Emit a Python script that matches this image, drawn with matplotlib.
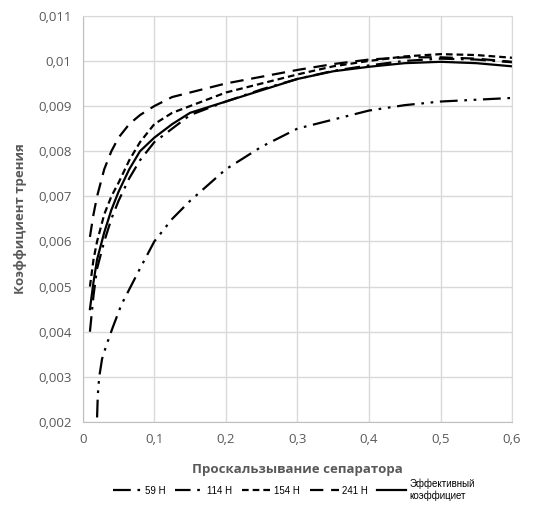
import numpy as np
import matplotlib.pyplot as plt

# slip values (x) and friction coefficients for each load
x59 = [0.02, 0.021, 0.023, 0.027, 0.033, 0.042, 0.054, 0.067, 0.08, 0.1, 0.125, 0.15, 0.2, 0.25, 0.3, 0.35, 0.4, 0.45, 0.5, 0.55, 0.6]
y59 = [0.0021, 0.0026, 0.003, 0.0034, 0.0037, 0.0041, 0.0046, 0.005, 0.0054, 0.006, 0.0065, 0.0069, 0.0076, 0.0081, 0.0085, 0.0087, 0.0089, 0.00902, 0.0091, 0.00914, 0.00918]

xs = [0.01, 0.015, 0.02, 0.03, 0.04, 0.05, 0.065, 0.08, 0.1, 0.125, 0.15, 0.2, 0.25, 0.3, 0.35, 0.4, 0.45, 0.5, 0.55, 0.6]
y114 = [0.004, 0.0048, 0.0054, 0.006, 0.0065, 0.0069, 0.0074, 0.0078, 0.0082, 0.0085, 0.0088, 0.0091, 0.00937, 0.0096, 0.00978, 0.0099, 0.01, 0.01005, 0.01003, 0.00997]
y154 = [0.005, 0.0056, 0.006, 0.0066, 0.007, 0.0073, 0.0078, 0.0082, 0.0086, 0.00885, 0.009, 0.0093, 0.0095, 0.0097, 0.00988, 0.01, 0.0101, 0.01015, 0.01013, 0.01007]
y241 = [0.0061, 0.0066, 0.007, 0.0076, 0.008, 0.0083, 0.0086, 0.0088, 0.009, 0.0092, 0.0093, 0.0095, 0.00965, 0.0098, 0.00993, 0.01003, 0.01008, 0.01008, 0.01005, 0.00998]
yeff = [0.0045, 0.0051, 0.0056, 0.0062, 0.0067, 0.0071, 0.0076, 0.008, 0.0083, 0.0086, 0.00885, 0.0091, 0.00935, 0.0096, 0.00977, 0.00987, 0.00995, 0.00998, 0.00995, 0.00988]

labels = ['59 Н', '114 Н', '154 Н', '241 Н', 'Эффективный\nкоэффициет']
xticks = [0, 0.1, 0.2, 0.3, 0.4, 0.5, 0.6]
yticks = [0.002, 0.003, 0.004, 0.005, 0.006, 0.007, 0.008, 0.009, 0.01, 0.011]

grey = '#595959'
plt.rcParams['font.family'] = ['Open Sans', 'DejaVu Sans']

fig = plt.figure(figsize=(5.34, 5.09), dpi=100)
ax = fig.add_axes([0.155, 0.171, 0.804, 0.798])

ax.plot(x59, y59, color='black', lw=1.6, ls=(0, (8, 3, 1.2, 3, 1.2, 3)), label=labels[0])
ax.plot(xs, y114, color='black', lw=1.6, ls=(0, (7, 3, 1.2, 3)), label=labels[1])
ax.plot(xs, y154, color='black', lw=1.6, ls=(0, (3, 1.8)), label=labels[2])
ax.plot(xs, y241, color='black', lw=1.6, ls=(0, (6, 3.5)), label=labels[3])
ax.plot(xs, yeff, color='black', lw=1.6, ls='-', label=labels[4])

ax.set_xlim(0, 0.6)
ax.set_ylim(0.002, 0.011)
ax.set_xticks(xticks)
ax.set_yticks(yticks)
ax.set_xticklabels([('%g' % t).replace('.', ',') for t in xticks])
ax.set_yticklabels([('%.3f' % t).rstrip('0').replace('.', ',') for t in yticks])
ax.tick_params(colors=grey, labelsize=9.5, length=0, pad=8)
ax.grid(True, color='#d9d9d9', lw=1)
for s in ax.spines.values():
    s.set_color('#d9d9d9')
ax.spines['left'].set_color('#bfbfbf')
ax.spines['bottom'].set_color('#bfbfbf')
ax.set_axisbelow(True)

ax.set_xlabel('Проскальзывание сепаратора', color=grey, fontsize=9.5, fontweight='bold', labelpad=12)
ax.set_ylabel('Коэффициент трения', color=grey, fontsize=9.5, fontweight='bold', labelpad=8)

leg = fig.legend(loc='center', bbox_to_anchor=(0.55, 0.038), ncol=5, frameon=False,
                 prop={'family': 'Liberation Sans', 'size': 7}, handlelength=3.0,
                 handletextpad=0.3, columnspacing=1.0)

fig.savefig('out.png', dpi=100)
